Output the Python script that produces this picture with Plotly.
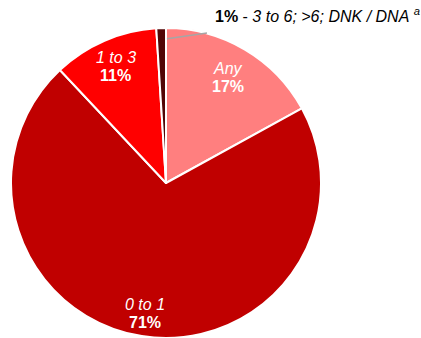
import math
import plotly.graph_objects as go

# Share of respondents by category
categories = ["Any", "0 to 1", "1 to 3", "3 to 6; >6; DNK / DNA"]
shares = [17, 71, 11, 1]
colors = ["#FF7F7F", "#C00000", "#FF0000", "#520606"]

W, H = 421, 338
CX, CY, R = 166, 183, 155  # pie centre and radius in pixels

FONT = "Liberation Sans, Arial, sans-serif"


def px_to_paper(x, y):
    return x / W, 1 - y / H


def polar(frac_angle, rfrac):
    """Pixel point at a cumulative share (0..100, clockwise from top)."""
    th = frac_angle / 100 * 2 * math.pi
    return CX + rfrac * R * math.sin(th), CY - rfrac * R * math.cos(th)


fig = go.Figure(
    go.Pie(
        labels=categories,
        values=shares,
        sort=False,
        direction="clockwise",
        rotation=0,
        marker=dict(colors=colors, line=dict(color="white", width=2)),
        textinfo="none",
        hoverinfo="skip",
        showlegend=False,
        domain=dict(x=[(CX - R) / W, (CX + R) / W],
                    y=[1 - (CY + R) / H, 1 - (CY - R) / H]),
    )
)

# Inside labels: category (italic) over share (bold), placed on each slice's mid-angle
label_radius = {"Any": 0.79, "0 to 1": 0.85, "1 to 3": 0.82}
annotations = []
cum = 0
for cat, val in zip(categories, shares):
    mid = cum + val / 2
    cum += val
    if cat not in label_radius:
        continue
    x, y = polar(mid, label_radius[cat])
    for txt, dy in ((f"<i>{cat}</i>", -9), (f"<b>{val}%</b>", 9)):
        xp, yp = px_to_paper(x, y + dy)
        annotations.append(dict(
            x=xp, y=yp, xref="paper", yref="paper", text=txt, showarrow=False,
            xanchor="center", yanchor="middle",
            font=dict(family=FONT, size=16, color="white"),
        ))

# Callout for the smallest slice
small_cat, small_val = categories[-1], shares[-1]
tx, ty = 213, 15
xp, yp = px_to_paper(tx, ty)
annotations.append(dict(
    x=xp, y=yp, xref="paper", yref="paper", showarrow=False,
    xanchor="left", yanchor="middle",
    text=(f"<b>{small_val}%</b> - <i>{small_cat.replace('>', '&gt;')}</i> "
          f"<sup><i>a</i></sup>"),
    font=dict(family=FONT, size=16, color="black"),
))

sx, sy = polar(100, 0.93)
x0, y0 = px_to_paper(sx + 1, sy)
x1, y1 = px_to_paper(tx - 6, ty + 18)
fig.add_shape(type="line", xref="paper", yref="paper", x0=x0, y0=y0, x1=x1, y1=y1,
              line=dict(color="#A6A6A6", width=1.5))

fig.update_layout(
    width=W, height=H,
    margin=dict(l=0, r=0, t=0, b=0),
    paper_bgcolor="white", plot_bgcolor="white",
    annotations=annotations,
)

fig.write_html("out.html")
